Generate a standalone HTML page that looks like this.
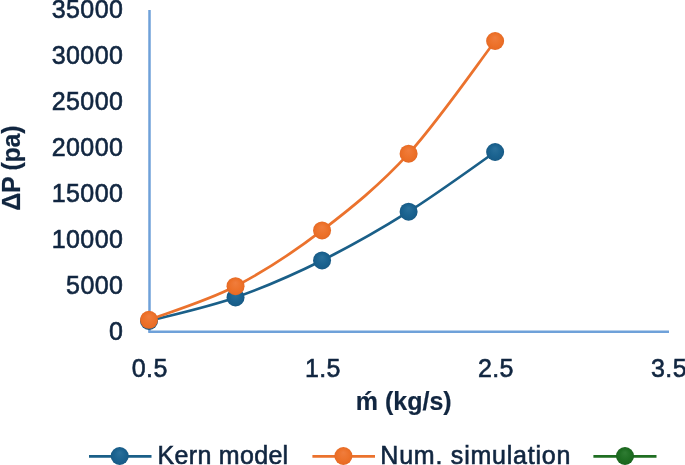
<!DOCTYPE html>
<html><head><meta charset="utf-8"><style>
html,body{margin:0;padding:0;background:#fff;}
body{width:685px;height:465px;overflow:hidden;}
svg{display:block;will-change:transform;}
text{font-family:"Liberation Sans",sans-serif;font-size:25px;fill:#112640;stroke:#112640;stroke-width:0.6px;letter-spacing:0.4px;}
.b{font-weight:bold;letter-spacing:0;stroke-width:0.2px;}
</style></head><body>
<svg width="685" height="465" viewBox="0 0 685 465">
<defs>
<radialGradient id="gb" cx="50%" cy="50%" r="50%" fx="50%" fy="30%"><stop offset="0" stop-color="#2a709b"/><stop offset="0.6" stop-color="#1b6390"/><stop offset="0.9" stop-color="#185d89"/><stop offset="1" stop-color="#155680"/></radialGradient>
<radialGradient id="go" cx="50%" cy="50%" r="50%" fx="50%" fy="30%"><stop offset="0" stop-color="#f07d3d"/><stop offset="0.6" stop-color="#ed722b"/><stop offset="0.9" stop-color="#e96c25"/><stop offset="1" stop-color="#e06522"/></radialGradient>
<radialGradient id="gg" cx="50%" cy="50%" r="50%" fx="50%" fy="30%"><stop offset="0" stop-color="#2f7c33"/><stop offset="0.6" stop-color="#1f6e23"/><stop offset="0.9" stop-color="#1c681f"/><stop offset="1" stop-color="#17601a"/></radialGradient>
</defs>
<line x1="149.5" y1="10" x2="149.5" y2="331.5" stroke="#6fa1d9" stroke-width="2.5"/>
<line x1="148.25" y1="331.7" x2="669" y2="331.7" stroke="#6fa1d9" stroke-width="2.5"/>
<text x="123.3" y="339.7" text-anchor="end">0</text>
<text x="123.3" y="293.8" text-anchor="end">5000</text>
<text x="123.3" y="247.8" text-anchor="end">10000</text>
<text x="123.3" y="201.9" text-anchor="end">15000</text>
<text x="123.3" y="156.0" text-anchor="end">20000</text>
<text x="123.3" y="110.1" text-anchor="end">25000</text>
<text x="123.3" y="64.1" text-anchor="end">30000</text>
<text x="123.3" y="18.2" text-anchor="end">35000</text>
<text x="149.8" y="376.5" text-anchor="middle">0.5</text>
<text x="322.9" y="376.5" text-anchor="middle">1.5</text>
<text x="495.9" y="376.5" text-anchor="middle">2.5</text>
<text x="669.0" y="376.5" text-anchor="middle">3.5</text>

<text class="b" x="355.8" y="410.2">ḿ (kg/s)</text>
<text class="b" transform="translate(19.9,210.7) rotate(-90)" style="letter-spacing:-0.3px" x="0" y="0">ΔP (pa)</text>
<path d="M149.00,320.90 C163.42,316.98 206.69,307.47 235.53,297.40 C264.37,287.32 293.22,274.73 322.06,260.45 C350.90,246.17 379.75,229.77 408.59,211.70 C437.43,193.62 480.70,161.95 495.12,152.00" fill="none" stroke="#1a5f88" stroke-width="2.7" stroke-linecap="round"/>
<circle cx="149.00" cy="320.9" r="9" fill="url(#gb)"/><circle cx="235.53" cy="297.4" r="9" fill="url(#gb)"/><circle cx="322.06" cy="260.45" r="9" fill="url(#gb)"/><circle cx="408.59" cy="211.7" r="9" fill="url(#gb)"/><circle cx="495.12" cy="152.0" r="9" fill="url(#gb)"/>
<path d="M149.00,319.80 C163.42,314.20 206.69,301.10 235.53,286.20 C264.37,271.30 293.22,252.48 322.06,230.40 C350.90,208.32 379.75,185.27 408.59,153.70 C437.43,122.13 480.70,59.78 495.12,41.00" fill="none" stroke="#eb722d" stroke-width="2.7" stroke-linecap="round"/>
<circle cx="149.00" cy="319.8" r="9" fill="url(#go)"/><circle cx="235.53" cy="286.2" r="9" fill="url(#go)"/><circle cx="322.06" cy="230.4" r="9" fill="url(#go)"/><circle cx="408.59" cy="153.7" r="9" fill="url(#go)"/><circle cx="495.12" cy="41.0" r="9" fill="url(#go)"/>
<line x1="89" y1="456.3" x2="151.5" y2="456.3" stroke="#1a5f88" stroke-width="2.7"/>
<circle cx="119.7" cy="456" r="9" fill="url(#gb)"/>
<text x="157.6" y="464.2" style="letter-spacing:0.3px">Kern model</text>
<line x1="312.4" y1="456.3" x2="375" y2="456.3" stroke="#eb722d" stroke-width="2.7"/>
<circle cx="343.4" cy="456" r="9" fill="url(#go)"/>
<text x="380.3" y="464.2" style="letter-spacing:0.78px">Num. simulation</text>
<line x1="593.4" y1="456.4" x2="656.5" y2="456.4" stroke="#1f6e22" stroke-width="2.7"/>
<circle cx="625" cy="456" r="9" fill="url(#gg)"/>
</svg>
</body></html>
